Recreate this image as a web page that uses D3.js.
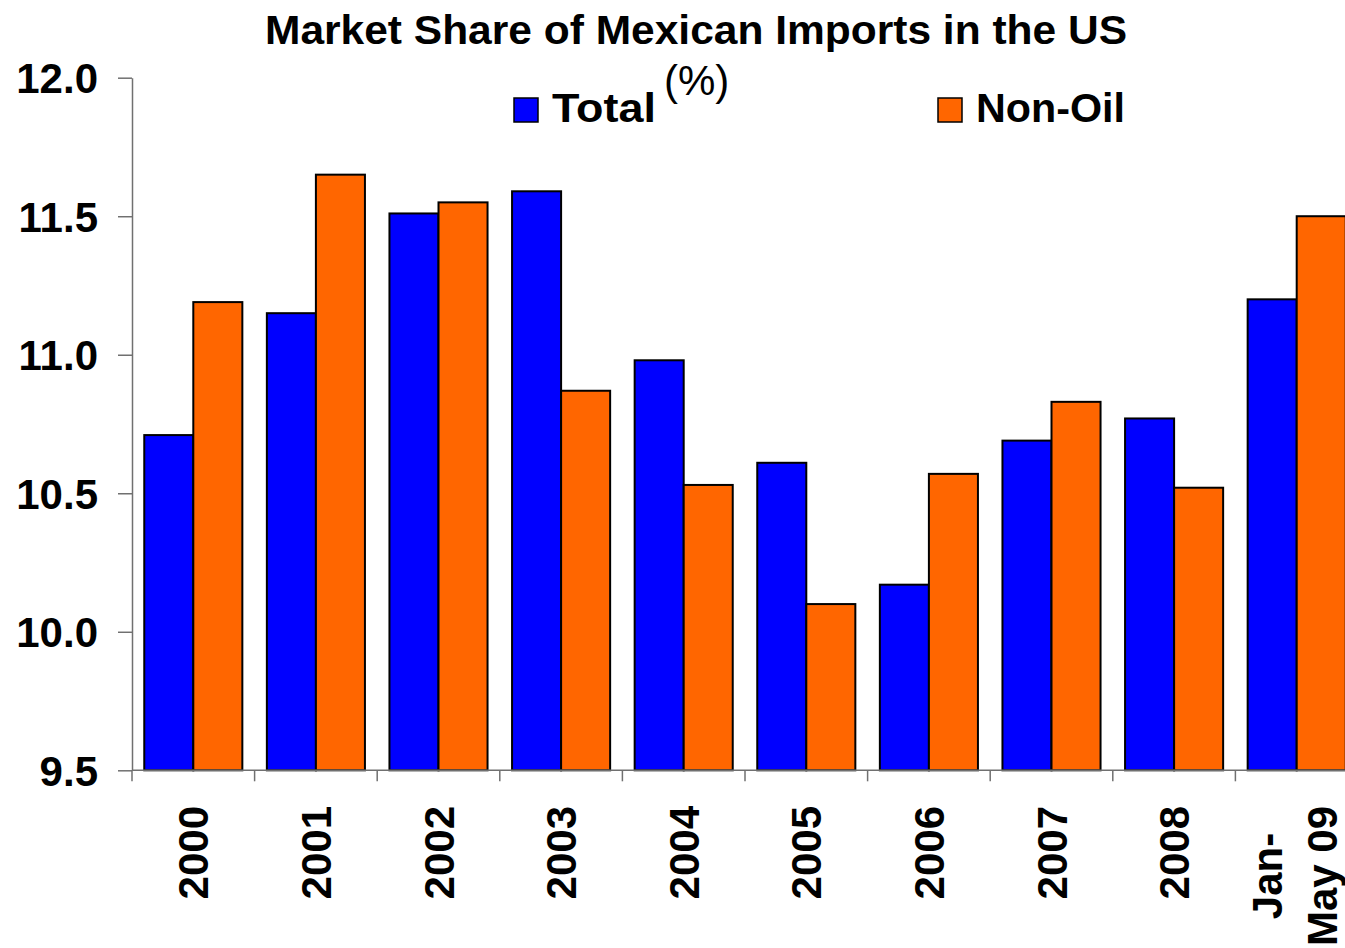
<!DOCTYPE html>
<html>
<head>
<meta charset="utf-8">
<script src="https://cdn.jsdelivr.net/npm/d3@7"></script>
<style>
  html, body { margin: 0; padding: 0; background: #fff; }
  svg { display: block; font-family: "Liberation Sans", Arial, Helvetica, sans-serif; }
</style>
</head>
<body>
<svg id="chart" width="1345" height="948"></svg>
<script>
// Market share of Mexican imports in the US (%), total vs non-oil
const categories = ["2000", "2001", "2002", "2003", "2004", "2005", "2006", "2007", "2008", "Jan-\nMay 09"];
const totalShare  = [10.71, 11.15, 11.51, 11.59, 10.98, 10.61, 10.17, 10.69, 10.77, 11.20];
const nonOilShare = [11.19, 11.65, 11.55, 10.87, 10.53, 10.10, 10.57, 10.83, 10.52, 11.50];
const seriesNames = ["Total", "Non-Oil"];
const yTicks = [9.5, 10.0, 10.5, 11.0, 11.5, 12.0];

const colors = { "Total": "#0000FF", "Non-Oil": "#FF6600" };

const rows = categories.map((c, i) => ({ cat: c, "Total": totalShare[i], "Non-Oil": nonOilShare[i] }));

const svg = d3.select("#chart");

const plotLeft = 132, plotTop = 77.7, plotBottom = 770.3;
const step = 122.6;
const plotRight = plotLeft + step * categories.length;

const x = d3.scaleBand()
  .domain(categories)
  .range([plotLeft, plotRight])
  .paddingInner(0.2)
  .paddingOuter(0.1);

const xs = d3.scaleBand()
  .domain(seriesNames)
  .range([0, x.bandwidth()]);

const y = d3.scaleLinear()
  .domain([9.5, 12])
  .range([plotBottom, plotTop]);

// Bars
const groups = svg.append("g").selectAll("g")
  .data(rows)
  .join("g")
  .attr("transform", d => `translate(${x(d.cat)},0)`);

groups.selectAll("rect")
  .data(d => seriesNames.map(s => ({ s, v: d[s] })))
  .join("rect")
  .attr("x", d => xs(d.s))
  .attr("y", d => y(d.v))
  .attr("width", xs.bandwidth())
  .attr("height", d => y(9.5) - y(d.v))
  .attr("fill", d => colors[d.s])
  .attr("stroke", "#000")
  .attr("stroke-width", 2);

// Y axis
const yAxis = svg.append("g")
  .attr("transform", `translate(${plotLeft},0)`)
  .call(d3.axisLeft(y)
    .tickValues(yTicks)
    .tickFormat(d3.format(".1f"))
    .tickSize(14)
    .tickSizeOuter(0)
    .tickPadding(20));
yAxis.select(".domain").attr("stroke", "#707070").attr("stroke-width", 1.5);
yAxis.selectAll(".tick line").attr("stroke", "#707070").attr("stroke-width", 1.5);
yAxis.selectAll(".tick text")
  .attr("font-size", 42)
  .attr("font-weight", "bold")
  .attr("fill", "#000")
  .attr("dy", "0.36em");

// X axis line and category boundary ticks
const xAxis = svg.append("g");
xAxis.append("line")
  .attr("x1", plotLeft).attr("x2", plotRight)
  .attr("y1", plotBottom).attr("y2", plotBottom)
  .attr("stroke", "#707070").attr("stroke-width", 1.5);
const bounds = categories.map(c => x(c) - x.step() * x.paddingOuter()).concat([plotRight]);
xAxis.selectAll("line.tk")
  .data(bounds)
  .join("line")
  .attr("class", "tk")
  .attr("x1", d => d).attr("x2", d => d)
  .attr("y1", plotBottom).attr("y2", plotBottom + 11)
  .attr("stroke", "#707070").attr("stroke-width", 1.5);

// Rotated category labels
const labelTop = 806;
categories.forEach(c => {
  const lines = c.split("\n");
  const cx = x(c) + x.bandwidth() / 2;
  const g = svg.append("g").attr("transform", `translate(${cx},${labelTop}) rotate(-90)`);
  if (lines.length === 1) {
    g.append("text")
      .attr("x", 0).attr("y", 15)
      .attr("text-anchor", "end")
      .attr("font-size", 42).attr("font-weight", "bold")
      .text(lines[0]);
  } else {
    const texts = lines.map((ln, i) => g.append("text")
      .attr("y", i === 0 ? -15 : 40)
      .attr("text-anchor", "middle")
      .attr("font-size", 42).attr("font-weight", "bold")
      .text(ln));
    const maxLen = d3.max(texts, t => t.node().getComputedTextLength());
    texts.forEach(t => t.attr("x", -maxLen / 2));
  }
});

// Title
svg.append("text")
  .attr("x", 265).attr("y", 44)
  .attr("font-size", 40).attr("font-weight", "bold")
  .attr("textLength", 862).attr("lengthAdjust", "spacingAndGlyphs")
  .text("Market Share of Mexican Imports in the US");

// Unit note
svg.append("text")
  .attr("x", 664).attr("y", 95)
  .attr("font-size", 42)
  .text("(%)");

// Legend
const legend = [
  { s: "Total", x: 514, w: 104 },
  { s: "Non-Oil", x: 938, w: 149 }
];
legend.forEach(d => {
  svg.append("rect")
    .attr("x", d.x).attr("y", 98)
    .attr("width", 24).attr("height", 24)
    .attr("fill", colors[d.s])
    .attr("stroke", "#000").attr("stroke-width", 1.5);
  svg.append("text")
    .attr("x", d.x + 38).attr("y", 122)
    .attr("font-size", 41).attr("font-weight", "bold")
    .attr("textLength", d.w).attr("lengthAdjust", "spacingAndGlyphs")
    .text(d.s);
});
</script>
</body>
</html>
